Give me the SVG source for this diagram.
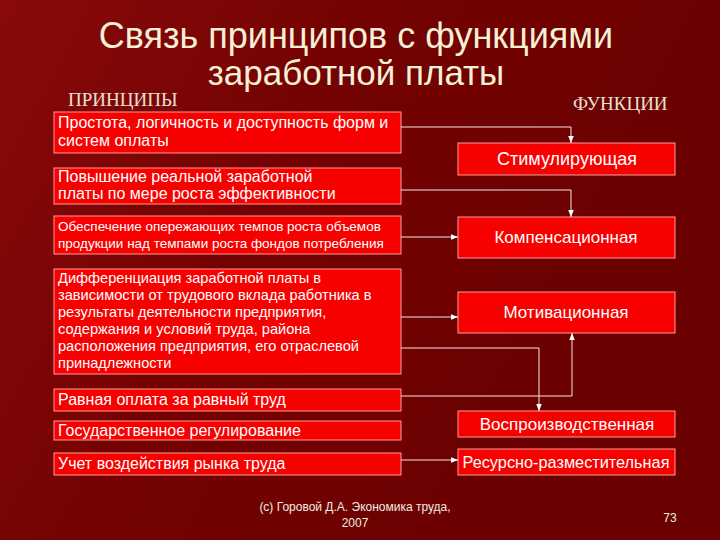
<svg xmlns="http://www.w3.org/2000/svg" width="720" height="540" viewBox="0 0 720 540">
<defs>
<linearGradient id="bg" x1="0" y1="0" x2="1" y2="0.4">
<stop offset="0" stop-color="#880a0a"/>
<stop offset="0.45" stop-color="#740202"/>
<stop offset="1" stop-color="#6a0000"/>
</linearGradient>
<marker id="ah" viewBox="0 0 10 10" refX="10" refY="5" markerWidth="7" markerHeight="7" markerUnits="userSpaceOnUse" orient="auto">
<path d="M0,1 L10,5 L0,9 Z" fill="#ffffff"/>
</marker>
<style>
.box{fill:#f60000;stroke:#ff9a9a;stroke-width:1}
.t{font-family:"Liberation Sans",Arial,sans-serif;fill:#ffffff;font-size:16px}
.ts{font-family:"Liberation Sans",Arial,sans-serif;fill:#ffffff;font-size:13.5px}
.tm{font-family:"Liberation Sans",Arial,sans-serif;fill:#ffffff;font-size:14.6px}
.tf{font-family:"Liberation Sans",Arial,sans-serif;fill:#ffffff;font-size:17px;text-anchor:middle}
.title{font-family:"Liberation Sans",Arial,sans-serif;fill:#f6f0d6;font-size:35px;text-anchor:middle}
.hd{font-family:"Liberation Serif","Times New Roman",serif;fill:#e8e0d2;font-size:19px}
.ft{font-family:"Liberation Sans",Arial,sans-serif;fill:#f0ece0;font-size:12px;text-anchor:middle}
.c{fill:none;stroke:#f4e6e6;stroke-width:1}
</style>
</defs>
<rect width="720" height="540" fill="url(#bg)"/>

<text class="title" x="356" y="48" style="font-size:36px">Связь принципов с функциями</text>
<text class="title" x="356" y="85">заработной платы</text>
<text class="hd" x="68" y="106">ПРИНЦИПЫ</text>
<text class="hd" x="573" y="110">ФУНКЦИИ</text>

<g id="p1"><rect class="box" x="54" y="112" width="347" height="41"/>
<text class="t" x="58" y="128">Простота, логичность и доступность форм и</text>
<text class="t" x="58" y="146">систем оплаты</text></g>
<g id="p2"><rect class="box" x="54" y="168" width="347" height="36"/>
<text class="t" x="58" y="182">Повышение реальной заработной</text>
<text class="t" x="58" y="199">платы по мере роста эффективности</text></g>
<g id="p3"><rect class="box" x="54" y="216" width="347" height="38"/>
<text class="ts" x="58" y="231">Обеспечение опережающих темпов роста объемов</text>
<text class="ts" x="58" y="248">продукции над темпами роста фондов потребления</text></g>
<g id="p4"><rect class="box" x="54" y="269" width="347" height="105"/>
<text class="tm" x="58" y="283">Дифференциация заработной платы в</text>
<text class="tm" x="58" y="300">зависимости от трудового вклада работника в</text>
<text class="tm" x="58" y="317">результаты деятельности предприятия,</text>
<text class="tm" x="58" y="334">содержания и условий труда, района</text>
<text class="tm" x="58" y="351">расположения предприятия, его отраслевой</text>
<text class="tm" x="58" y="368">принадлежности</text></g>
<g id="p5"><rect class="box" x="54" y="389" width="347" height="22"/>
<text class="t" x="58" y="405">Равная оплата за равный труд</text></g>
<g id="p6"><rect class="box" x="54" y="421" width="347" height="19"/>
<text class="t" x="58" y="436">Государственное регулирование</text></g>
<g id="p7"><rect class="box" x="54" y="453" width="347" height="22"/>
<text class="t" x="58" y="469">Учет воздействия рынка труда</text></g>

<g id="f1"><rect class="box" x="458" y="143" width="217" height="32"/>
<text class="tf" x="567" y="165" style="font-size:18px">Стимулирующая</text></g>
<g id="f2"><rect class="box" x="458" y="217" width="217" height="41"/>
<text class="tf" x="566" y="243">Компенсационная</text></g>
<g id="f3"><rect class="box" x="458" y="292" width="217" height="41"/>
<text class="tf" x="566" y="318">Мотивационная</text></g>
<g id="f4"><rect class="box" x="458" y="411" width="217" height="26"/>
<text class="tf" x="567" y="430">Воспроизводственная</text></g>
<g id="f5"><rect class="box" x="458" y="449" width="217" height="26"/>
<text class="tf" x="566" y="468" style="font-size:16.3px">Ресурсно-разместительная</text></g>

<g id="connectors">
<polyline class="c" points="401,127 571,127 571,143" marker-end="url(#ah)"/>
<polyline class="c" points="401,190 571,190 571,217" marker-end="url(#ah)"/>
<polyline class="c" points="401,237 458,237" marker-end="url(#ah)"/>
<polyline class="c" points="401,317 458,317" marker-end="url(#ah)"/>
<polyline class="c" points="401,348 539,348 539,411" marker-end="url(#ah)"/>
<polyline class="c" points="401,396 572,396 572,333" marker-end="url(#ah)"/>
<polyline class="c" points="401,460 458,460" marker-end="url(#ah)"/>
</g>

<text class="ft" x="355" y="511">(c) Горовой Д.А. Экономика труда,</text>
<text class="ft" x="355" y="527">2007</text>
<text class="ft" x="670" y="522">73</text>
</svg>
